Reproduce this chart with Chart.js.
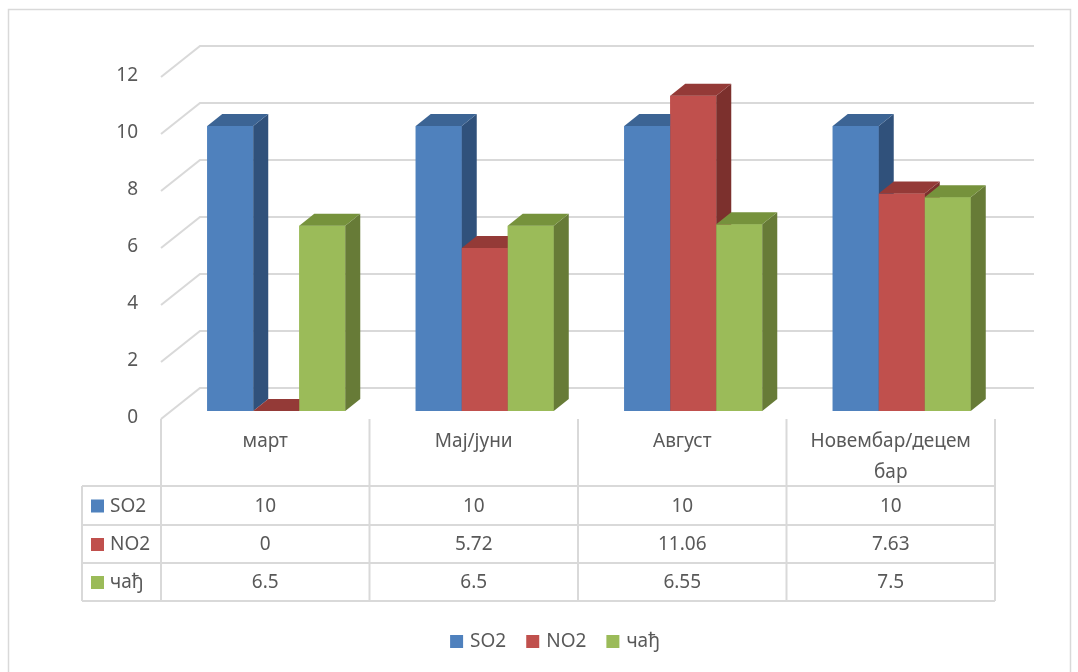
<!DOCTYPE html>
<html>
<head>
<meta charset="utf-8">
<script src="https://cdn.jsdelivr.net/npm/chart.js@4.4.1/dist/chart.umd.min.js"></script>
<style>
  body { margin: 0; background: #fff; }
  canvas { display: block; }
</style>
</head>
<body>
<canvas id="chart" width="1078" height="672"></canvas>
<script>
// data
const categories = ['март', 'Мај/јуни', 'Август', 'Новембар/децембар'];
const seriesNames = ['SO2', 'NO2', 'чађ'];
const so2 = [10, 10, 10, 10];
const no2 = [0, 5.72, 11.06, 7.63];
const cadj = [6.5, 6.5, 6.55, 7.5];
const yMax = 12;
const yStep = 2;

const frontColors = ['#4F81BD', '#C0504D', '#9BBB59'];
const topColors = ['#3C6494', '#943A37', '#76923C'];
const sideColors = ['#30517B', '#7C302D', '#677B37'];

const FONT = '19px "Noto Sans", sans-serif';
const TXT = '#595959';
const LINE = '#d9d9d9';

// 3d offsets
const BAR_SHIFT = { x: 11, y: -8 };   // bar plane vs front of wall
const BAR_DEPTH = { x: 15, y: -12 };
const WALL_DEPTH = { x: 39, y: -31 };

function wrapText(ctx, text, maxW) {
  const lines = [];
  let cur = '';
  for (const ch of text) {
    if (ctx.measureText(cur + ch).width > maxW && cur) {
      lines.push(cur);
      cur = ch;
    } else {
      cur += ch;
    }
  }
  lines.push(cur);
  return lines;
}

const bars3d = {
  id: 'bars3d',
  beforeDraw(chart) {
    const { ctx, chartArea: a, scales: { y } } = chart;
    ctx.save();
    ctx.fillStyle = '#fff';
    ctx.fillRect(0, 0, chart.width, chart.height);
    ctx.strokeStyle = LINE;
    ctx.lineWidth = 1.5;
    ctx.strokeRect(8.5, 9.5, 1062, 680);
    // wall gridlines
    ctx.strokeStyle = '#d9d9d9';
    ctx.lineWidth = 2;
    y.ticks.forEach(t => {
      const py = y.getPixelForValue(t.value);
      ctx.beginPath();
      ctx.moveTo(a.left, py);
      ctx.lineTo(a.left + WALL_DEPTH.x, py + WALL_DEPTH.y);
      ctx.lineTo(a.right + WALL_DEPTH.x, py + WALL_DEPTH.y);
      ctx.stroke();
    });
    ctx.restore();
  },
  beforeDatasetsDraw(chart) {
    chart.ctx.save();
    chart.ctx.translate(BAR_SHIFT.x, BAR_SHIFT.y);
  },
  afterDatasetsDraw(chart) {
    const ctx = chart.ctx;
    const n = chart.data.labels.length;
    for (let i = 0; i < n; i++) {
      chart.data.datasets.forEach((ds, d) => {
        const el = chart.getDatasetMeta(d).data[i];
        const l = el.x - el.width / 2, r = el.x + el.width / 2;
        const t = el.y, b = el.base;
        const dx = BAR_DEPTH.x, dy = BAR_DEPTH.y;
        ctx.fillStyle = frontColors[d];
        ctx.fillRect(l, t, r - l, b - t);
        ctx.fillStyle = sideColors[d];
        ctx.beginPath();
        ctx.moveTo(r, t); ctx.lineTo(r + dx, t + dy);
        ctx.lineTo(r + dx, b + dy); ctx.lineTo(r, b);
        ctx.closePath(); ctx.fill();
        ctx.fillStyle = topColors[d];
        ctx.beginPath();
        ctx.moveTo(l, t); ctx.lineTo(l + dx, t + dy);
        ctx.lineTo(r + dx, t + dy); ctx.lineTo(r, t);
        ctx.closePath(); ctx.fill();
      });
    }
    ctx.restore();
  },
  afterDraw(chart) {
    const { ctx, chartArea: a, scales: { x, y } } = chart;
    ctx.save();
    ctx.font = FONT;
    ctx.fillStyle = TXT;
    // y tick labels
    ctx.textAlign = 'right';
    ctx.textBaseline = 'middle';
    y.ticks.forEach(t => {
      ctx.fillText(t.label, 138, y.getPixelForValue(t.value) - 1);
    });

    // data table
    const colW = (a.right - a.left) / categories.length;
    const rowTop = [486, 525, 563, 601];
    const tableLeft = 82;
    ctx.strokeStyle = LINE;
    ctx.lineWidth = 2;
    ctx.beginPath();
    rowTop.forEach(ry => { ctx.moveTo(tableLeft, ry); ctx.lineTo(a.right, ry); });
    ctx.moveTo(tableLeft, rowTop[0]); ctx.lineTo(tableLeft, rowTop[3]);
    for (let i = 0; i <= categories.length; i++) {
      const cx = a.left + i * colW;
      ctx.moveTo(cx, a.bottom); ctx.lineTo(cx, rowTop[3]);
    }
    ctx.stroke();

    ctx.textAlign = 'center';
    ctx.textBaseline = 'middle';
    categories.forEach((c, i) => {
      const cx = x.getPixelForValue(i);
      const lines = wrapText(ctx, c, colW * 0.775);
      lines.forEach((ln, k) => ctx.fillText(ln, cx, 442 + k * 31));
    });
    chart.data.datasets.forEach((ds, d) => {
      const cy = (rowTop[d] + rowTop[d + 1]) / 2;
      ctx.fillStyle = frontColors[d];
      ctx.fillRect(91, cy - 6, 13, 13);
      ctx.fillStyle = TXT;
      ctx.textAlign = 'left';
      ctx.fillText(ds.label, 110, cy + 1);
      ctx.textAlign = 'center';
      ds.data.forEach((v, i) => ctx.fillText(String(v), x.getPixelForValue(i), cy + 1));
    });

    // legend
    ctx.textAlign = 'left';
    const ly = 641;
    const widths = seriesNames.map(s => ctx.measureText(s).width);
    const gap = 20, box = 13, pad = 7;
    const total = widths.reduce((s, w) => s + box + pad + w, 0) + gap * (seriesNames.length - 1);
    let lx = 555 - total / 2;
    seriesNames.forEach((s, d) => {
      ctx.fillStyle = frontColors[d];
      ctx.fillRect(lx, ly - 6, box, box);
      ctx.fillStyle = TXT;
      ctx.fillText(s, lx + box + pad, ly + 1);
      lx += box + pad + widths[d] + gap;
    });
    ctx.restore();
  }
};

new Chart(document.getElementById('chart'), {
  type: 'bar',
  data: {
    labels: categories,
    datasets: [
      { label: seriesNames[0], data: so2, backgroundColor: frontColors[0] },
      { label: seriesNames[1], data: no2, backgroundColor: frontColors[1] },
      { label: seriesNames[2], data: cadj, backgroundColor: frontColors[2] }
    ]
  },
  options: {
    responsive: false,
    animation: false,
    events: [],
    layout: { padding: { left: 161, right: 83, top: 77, bottom: 253 } },
    datasets: { bar: { categoryPercentage: 0.662, barPercentage: 1.0 } },
    scales: {
      x: { display: false },
      y: { display: false, min: 0, max: yMax, ticks: { stepSize: yStep } }
    },
    plugins: {
      legend: { display: false },
      tooltip: { enabled: false }
    }
  },
  plugins: [bars3d]
});
</script>
</body>
</html>
